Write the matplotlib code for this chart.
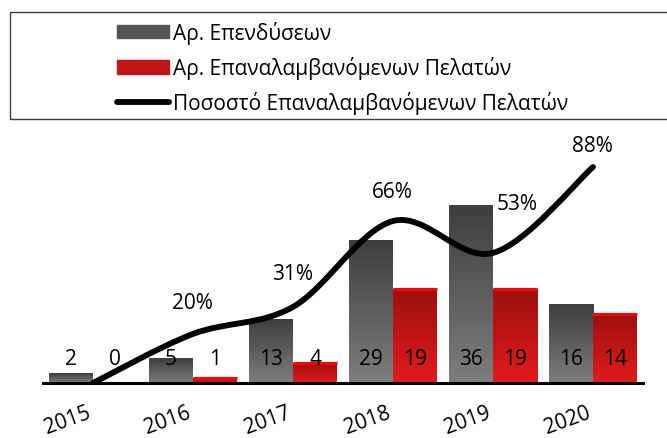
import numpy as np
import matplotlib
matplotlib.use("Agg")
import matplotlib.pyplot as plt
from matplotlib.path import Path
from matplotlib.patches import PathPatch, Rectangle

plt.rcParams['font.family'] = ['Open Sans', 'DejaVu Sans']

years = ['2015', '2016', '2017', '2018', '2019', '2020']
investments = [2, 5, 13, 29, 36, 16]
repeat_clients = [0, 1, 4, 19, 19, 14]
repeat_pct = [0, 20, 31, 66, 53, 88]

label_investments = 'Αρ. Επενδύσεων'
label_repeat = 'Αρ. Επαναλαμβανόμενων Πελατών'
label_pct = 'Ποσοστό Επαναλαμβανόμενων Πελατών'

# pixel offsets of the percentage labels from their points
pct_offsets = [None, (-1, 31), (0, 33), (-1, 30), (24, 49), (-1, 22)]

FS = 15
W, H = 667, 439


def gradient_fill(ax, bars, top_color, bottom_color):
    cmap = matplotlib.colors.LinearSegmentedColormap.from_list('g', [bottom_color, top_color])
    grad = np.linspace(0, 1, 256).reshape(-1, 1)
    for b in bars:
        h = b.get_height()
        if h <= 0:
            continue
        x0 = b.get_x()
        ax.imshow(grad, extent=[x0, x0 + b.get_width(), 0, h], origin='lower',
                  aspect='auto', cmap=cmap, interpolation='bicubic', zorder=2)
        b.set_facecolor('none')


def smooth_path(xs, ys):
    # Bezier curve through the points (Excel style smoothed line)
    pts = np.column_stack([xs, ys]).astype(float)
    n = len(pts)
    verts = [pts[0]]
    codes = [Path.MOVETO]
    for i in range(n - 1):
        p0 = pts[max(i - 1, 0)]
        p1 = pts[i]
        p2 = pts[i + 1]
        p3 = pts[min(i + 2, n - 1)]
        c1 = p1 + (p2 - p0) / 6.0
        c2 = p2 - (p3 - p1) / 6.0
        verts += [c1, c2, p2]
        codes += [Path.CURVE4] * 3
    return Path(verts, codes)


fig = plt.figure(figsize=(W / 100, H / 100), dpi=100)
ax = fig.add_axes([43 / W, 55 / H, 600 / W, 256 / H])

x = np.arange(len(years))
bw = 0.44
gray_bars = ax.bar(x - bw / 2, investments, bw, color='#555555', zorder=2)
red_bars = ax.bar(x + bw / 2, repeat_clients, bw, color='#c01515', zorder=2)
gradient_fill(ax, gray_bars, '#3e3e3e', '#7e7e7e')
gradient_fill(ax, red_bars, '#9e1010', '#e21b1b')
for b in red_bars:
    if b.get_height() > 0:
        ax.plot([b.get_x(), b.get_x() + b.get_width()], [b.get_height()] * 2,
                color='#ff0000', lw=2.2, solid_capstyle='butt', zorder=3)

for xi, v in zip(x - bw / 2, investments):
    ax.annotate(str(v), (xi, 0), xytext=(0, 24), textcoords='offset pixels',
                ha='center', va='center', fontsize=FS, zorder=5)
for xi, v in zip(x + bw / 2, repeat_clients):
    ax.annotate(str(v), (xi, 0), xytext=(0, 24), textcoords='offset pixels',
                ha='center', va='center', fontsize=FS, zorder=5)

for xi, yr in zip(x, years):
    ax.annotate(yr, (xi, 0), xytext=(-1, -34), textcoords='offset pixels',
                ha='right', va='baseline', rotation=20, rotation_mode='anchor',
                fontsize=FS, annotation_clip=False)

ax.set_xlim(-0.5, 5.5)
ax.set_ylim(0, 52)
ax.set_xticks([])
ax.set_yticks([])
for s in ['top', 'left', 'right']:
    ax.spines[s].set_visible(False)
ax.spines['bottom'].set_linewidth(2.2)
ax.spines['bottom'].set_zorder(6)

ax2 = ax.twinx()
ax2.set_ylim(0, 104.3)
ax2.set_axis_off()
line_patch = PathPatch(smooth_path(x, repeat_pct), fill=False, lw=4.2,
                       edgecolor='black', capstyle='round', joinstyle='round', zorder=4)
ax2.add_patch(line_patch)
for xi, v, off in zip(x, repeat_pct, pct_offsets):
    if off is None:
        continue
    ax2.annotate(f'{v}%', (xi, v), xytext=off, textcoords='offset pixels',
                 ha='center', va='center', fontsize=FS)

# legend box
fig.patches.append(Rectangle((10 / W, 1 - 120 / H), 700 / W, 107 / H,
                             transform=fig.transFigure, fill=False,
                             edgecolor='#404040', lw=1.0))
handles = [Rectangle((0, 0), 1, 1, color='#555555'),
           Rectangle((0, 0), 1, 1, color='#c01515'),
           plt.Line2D([0], [0], color='black', lw=4.2, solid_capstyle='round')]
fig.legend(handles, [label_investments, label_repeat, label_pct],
           loc='upper left', bbox_to_anchor=(117 / W, 1 - 22 / H),
           frameon=False, fontsize=FS, borderpad=0, borderaxespad=0,
           handlelength=2.5, handleheight=0.62, handletextpad=0.2,
           labelspacing=0.58)

fig.savefig('out.png', dpi=100)
